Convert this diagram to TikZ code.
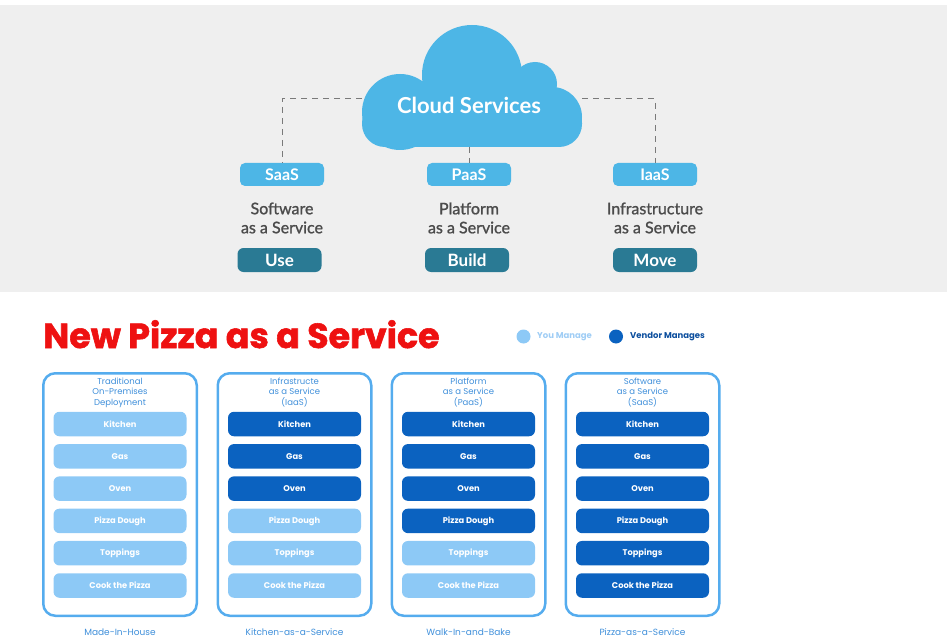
\documentclass[tikz,border=0pt]{standalone}
\usepackage{fontspec}
\setmainfont{Lato}
\newfontfamily\pizzafont{Poppins}

\definecolor{graybg}{HTML}{EFEFEF}
\definecolor{cloudblue}{HTML}{4DB6E6}
\definecolor{tealbtn}{HTML}{2A7A94}
\definecolor{descgray}{HTML}{4B4B4B}
\definecolor{linkgray}{HTML}{7A7A7A}
\definecolor{pizzared}{HTML}{EE1111}
\definecolor{lightbar}{HTML}{8DC9F6}
\definecolor{darkbar}{HTML}{0B62C0}
\definecolor{frameblue}{HTML}{55ACEE}
\definecolor{labelblue}{HTML}{3F8FDA}
\definecolor{vendortext}{HTML}{0D4F9E}
\definecolor{youtext}{HTML}{9FCDF5}

\begin{document}
\begin{tikzpicture}[x=1pt, y=-1pt,
  tag/.style={fill=cloudblue, rounded corners=5pt, minimum width=84pt, minimum height=23pt, inner sep=0pt, text=white, font=\fontsize{16}{16}\selectfont\bfseries},
  btn/.style={tag, fill=tealbtn, rounded corners=6pt, minimum height=24pt, font=\fontsize{17}{17}\selectfont\bfseries},
  desc/.style={align=center, inner sep=0pt, text=descgray, font=\fontsize{16}{19}\selectfont\addfontfeature{FakeBold=1.2}},
  link/.style={draw=linkgray, line width=1pt, dash pattern=on 6pt off 5pt},
  frame/.style={draw=frameblue, line width=2.5pt, rounded corners=12pt, minimum width=156pt-\pgflinewidth, minimum height=245pt-\pgflinewidth, inner sep=0pt},
  you/.style={fill=lightbar, rounded corners=6pt, minimum width=133pt, minimum height=24.5pt, inner sep=0pt, text=white, font=\pizzafont\fontsize{8.3}{8.3}\selectfont\bfseries},
  vendor/.style={you, fill=darkbar},
  head/.style={align=center, inner sep=0pt, text=labelblue, font=\pizzafont\fontsize{8.5}{10.5}\selectfont},
  foot/.style={inner sep=0pt, text=labelblue, font=\pizzafont\fontsize{9}{9}\selectfont},
  dot/.style={circle, minimum size=14pt, inner sep=0pt}]
\useasboundingbox (0,0) rectangle (947,639);
\fill[graybg] (0,5) rectangle (947,292);

\fill[cloudblue] (472,75) circle[radius=50pt] (400,112) circle[radius=38pt] (535,84) circle[radius=22pt] (552,117) circle[radius=30pt];
\fill[cloudblue] (420,85) rectangle (545,110);
\fill[cloudblue, rounded corners=23pt] (362,100) rectangle (582,147);
\node[inner sep=0pt, text=white, font=\fontsize{22}{22}\selectfont\bfseries] (cloud) at (469,105) {Cloud Services};
\coordinate (cloudl) at (362,99);
\coordinate (cloudr) at (582,99);
\coordinate (cloudb) at (469,147);

\node[tag] (saas) at (282,174.5) {SaaS};
\node[tag] (paas) at (469,174.5) {PaaS};
\node[tag] (iaas) at (655,174.5) {IaaS};

\node[desc] (saasd) at (282,218) {Software\\as a Service};
\node[desc] (paasd) at (469,218) {Platform\\as a Service};
\node[desc] (iaasd) at (655,218) {Infrastructure\\as a Service};

\node[btn] (use) at (279.5,260) {Use};
\node[btn] (build) at (467,260) {Build};
\node[btn] (move) at (655,260) {Move};

\draw[link] (cloudl) -| (saas);
\draw[link] (cloudb) -- (paas);
\draw[link] (cloudr) -| (iaas);

\node[anchor=base west, inner sep=0pt, text=pizzared, font=\pizzafont\fontsize{34.8}{34.8}\selectfont\bfseries\addfontfeature{FakeBold=1.6}] (title) at (43,348) {New Pizza as a Service};
\node[dot, fill=lightbar] (youdot) at (523.5,336.5) {};
\node[anchor=west, inner sep=0pt, text=youtext, font=\pizzafont\fontsize{8.5}{8.5}\selectfont\bfseries] (youtxt) at (537,336.5) {You Manage};
\node[dot, fill=darkbar] (vendordot) at (616,336.5) {};
\node[anchor=west, inner sep=0pt, text=vendortext, font=\pizzafont\fontsize{8.5}{8.5}\selectfont\bfseries] (vendortxt) at (630,336.5) {Vendor Manages};

\node[frame] (trad) at (120,494.5) {};
\node[frame] (infra) at (294.5,494.5) {};
\node[frame] (plat) at (468.5,494.5) {};
\node[frame] (soft) at (642.5,494.5) {};

\node[head] (tradh) at (120,392.5) {Traditional\\On-Premises\\Deployment};
\node[you] (trad1) at (120,424) {Kitchen};
\node[you] (trad2) at (120,456.3) {Gas};
\node[you] (trad3) at (120,488.6) {Oven};
\node[you] (trad4) at (120,520.9) {Pizza Dough};
\node[you] (trad5) at (120,553.2) {Toppings};
\node[you] (trad6) at (120,585.5) {Cook the Pizza};
\node[foot] (tradf) at (120,632) {Made-In-House};

\node[head] (infrah) at (294.5,392.5) {Infrastructe\\as a Service\\(IaaS)};
\node[vendor] (infra1) at (294.5,424) {Kitchen};
\node[vendor] (infra2) at (294.5,456.3) {Gas};
\node[vendor] (infra3) at (294.5,488.6) {Oven};
\node[you] (infra4) at (294.5,520.9) {Pizza Dough};
\node[you] (infra5) at (294.5,553.2) {Toppings};
\node[you] (infra6) at (294.5,585.5) {Cook the Pizza};
\node[foot] (infraf) at (294.5,632) {Kitchen-as-a-Service};

\node[head] (plath) at (468.5,392.5) {Platform\\as a Service\\(PaaS)};
\node[vendor] (plat1) at (468.5,424) {Kitchen};
\node[vendor] (plat2) at (468.5,456.3) {Gas};
\node[vendor] (plat3) at (468.5,488.6) {Oven};
\node[vendor] (plat4) at (468.5,520.9) {Pizza Dough};
\node[you] (plat5) at (468.5,553.2) {Toppings};
\node[you] (plat6) at (468.5,585.5) {Cook the Pizza};
\node[foot] (platf) at (468.5,632) {Walk-In-and-Bake};

\node[head] (softh) at (642.5,392.5) {Software\\as a Service\\(SaaS)};
\node[vendor] (soft1) at (642.5,424) {Kitchen};
\node[vendor] (soft2) at (642.5,456.3) {Gas};
\node[vendor] (soft3) at (642.5,488.6) {Oven};
\node[vendor] (soft4) at (642.5,520.9) {Pizza Dough};
\node[vendor] (soft5) at (642.5,553.2) {Toppings};
\node[vendor] (soft6) at (642.5,585.5) {Cook the Pizza};
\node[foot] (softf) at (642.5,632) {Pizza-as-a-Service};
\end{tikzpicture}
\end{document}
